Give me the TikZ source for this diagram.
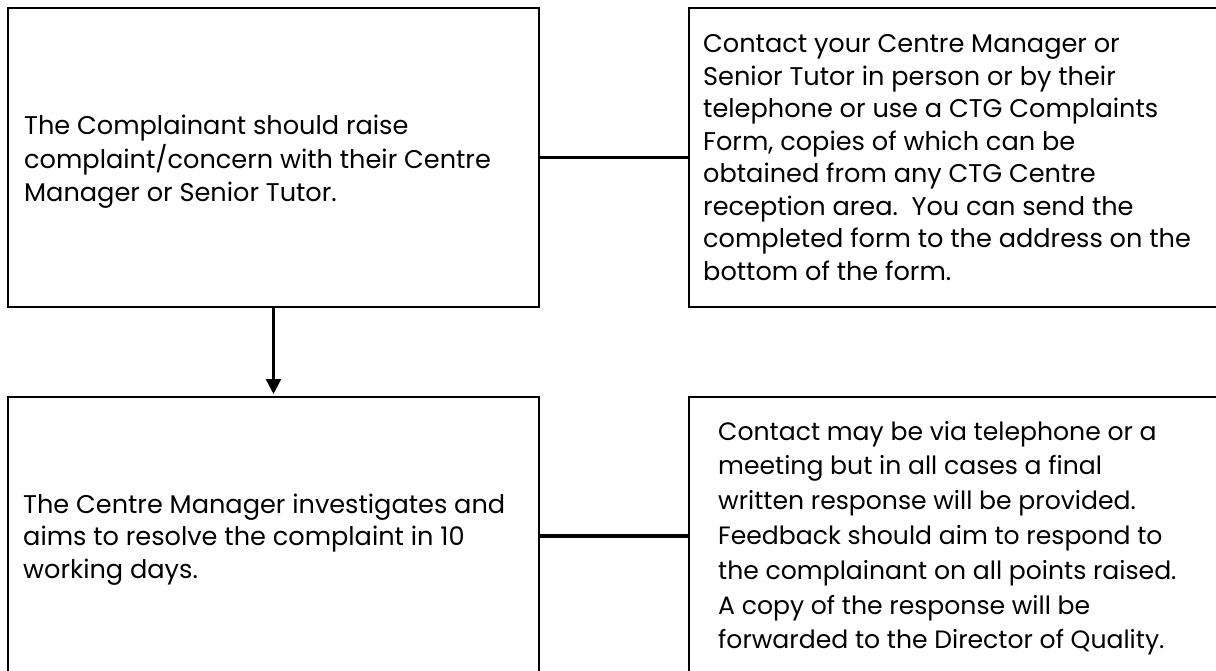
\documentclass[tikz,border=0pt]{standalone}
\usepackage{fontspec}
\setmainfont{Poppins}
\usetikzlibrary{arrows.meta}
\newcommand{\txtlines}[1]{\begin{tabular}[t]{@{}l@{}}#1\end{tabular}}
\tikzset{
  box/.style={draw=black, line width=2pt, rectangle, inner sep=0pt},
  txt/.style={anchor=base west, inner sep=0pt, text=black, font=\fontsize{25.6}{32.5}\selectfont},
  txtwide/.style={anchor=base west, inner sep=0pt, text=black, font=\fontsize{25.1}{34.8}\selectfont},
  link/.style={draw=black, line width=3.2pt},
  flow/.style={draw=black, line width=2.3pt, -{Triangle[width=15pt,length=15pt]}, shorten >=2pt}
}
\begin{document}
\begin{tikzpicture}[x=1pt,y=1pt]
\useasboundingbox (0,0) rectangle (1216,-671);
\clip (0,0) rectangle (1216,-671);
% boxes
\node[box, minimum width=531pt, minimum height=298pt, anchor=north west] (A) at (7,-7.5) {};
\node[box, minimum width=560pt, minimum height=298pt, anchor=north west] (B) at (688,-7.5) {};
\node[box, minimum width=531pt, minimum height=278pt, anchor=north west] (C) at (7,-396) {};
\node[box, minimum width=560pt, minimum height=278pt, anchor=north west] (D) at (688,-396) {};
% texts
\node[txt] (At) at (24,-135) {\txtlines{The Complainant should raise\\complaint/concern with their Centre\\Manager or Senior Tutor.}};
\node[txt] (Bt) at (703,-53) {\txtlines{Contact your Centre Manager or\\Senior Tutor in person or by their\\telephone or use a CTG Complaints\\Form, copies of which can be\\obtained from any CTG Centre\\reception area.\ \ You can send the\\completed form to the address on the\\bottom of the form.}};
\node[txt] (Ct) at (23,-513) {\txtlines{The Centre Manager investigates and\\aims to resolve the complaint in 10\\working days.}};
\node[txtwide] (Dt) at (718,-440) {\txtlines{Contact may be via telephone or a\\meeting but in all cases a final\\written response will be provided.\\Feedback should aim to respond to\\the complainant on all points raised.\\A copy of the response will be\\forwarded to the Director of Quality.}};
% connectors
\draw[link] (A.east) -- (B.west);
\draw[link] (C.east) -- (D.west);
\draw[flow] (A.south) -- (C.north);
\end{tikzpicture}
\end{document}
